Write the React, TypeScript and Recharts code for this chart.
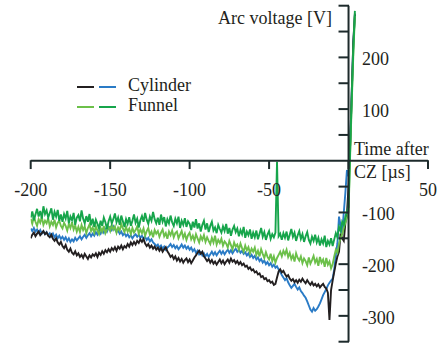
import React from "react";
import {
  LineChart,
  Line,
  XAxis,
  YAxis,
  ReferenceLine,
  ReferenceDot,
} from "recharts";

// time after CZ [µs], 1 µs sampling
const timeUs = [
  -200, -199, -198, -197, -196, -195, -194, -193, -192, -191, -190, -189, -188, -187, -186, -185, -184, -183, -182, -181,
  -180, -179, -178, -177, -176, -175, -174, -173, -172, -171, -170, -169, -168, -167, -166, -165, -164, -163, -162, -161,
  -160, -159, -158, -157, -156, -155, -154, -153, -152, -151, -150, -149, -148, -147, -146, -145, -144, -143, -142, -141,
  -140, -139, -138, -137, -136, -135, -134, -133, -132, -131, -130, -129, -128, -127, -126, -125, -124, -123, -122, -121,
  -120, -119, -118, -117, -116, -115, -114, -113, -112, -111, -110, -109, -108, -107, -106, -105, -104, -103, -102, -101,
  -100, -99, -98, -97, -96, -95, -94, -93, -92, -91, -90, -89, -88, -87, -86, -85, -84, -83, -82, -81,
  -80, -79, -78, -77, -76, -75, -74, -73, -72, -71, -70, -69, -68, -67, -66, -65, -64, -63, -62, -61,
  -60, -59, -58, -57, -56, -55, -54, -53, -52, -51, -50, -49, -48, -47, -46, -45, -44, -43, -42, -41,
  -40, -39, -38, -37, -36, -35, -34, -33, -32, -31, -30, -29, -28, -27, -26, -25, -24, -23, -22, -21,
  -20, -19, -18, -17, -16, -15, -14, -13, -12, -11, -10, -9, -8, -7, -6, -5, -4, -3, -2, -1,
  0, 1, 2, 3, 4,
];

// arc voltage [V], cylinder nozzle, shot 1
const cylinderBlack = [
  -150, -143, -139, -146, -141, -137, -144, -140, -136, -142, -139, -145, -148, -143, -151, -155, -150, -158, -162, -157,
  -165, -169, -163, -172, -176, -170, -178, -181, -175, -183, -179, -186, -182, -188, -180, -185, -190, -183, -187, -181,
  -184, -179, -186, -178, -182, -175, -180, -173, -177, -171, -176, -169, -173, -167, -174, -166, -170, -164, -171, -165,
  -168, -161, -166, -158, -163, -157, -162, -155, -159, -152, -157, -151, -160, -165, -161, -168, -164, -170, -166, -172,
  -168, -174, -169, -176, -171, -167, -175, -180, -186, -183, -190, -185, -193, -188, -195, -190, -197, -192, -189, -196,
  -191, -198, -193, -187, -183, -178, -174, -180, -176, -185, -189, -194, -190, -197, -192, -199, -195, -201, -196, -191,
  -198, -193, -200, -195, -191, -197, -189, -195, -192, -198, -194, -200, -196, -202, -199, -205, -203, -209, -206, -212,
  -210, -216, -214, -220, -218, -225, -223, -229, -227, -233, -231, -236, -234, -240, -238, -226, -214, -210, -216, -213,
  -219, -224, -221, -228, -232, -229, -235, -231, -236, -230, -234, -228, -233, -237, -231, -236, -240, -235, -241, -238,
  -243, -239, -245, -241, -238, -244, -247, -255, -308, -250, -232, -215, -199, -185, -176, -141, -150, -155, -120, -102,
  -50, 30, 130, 230, 285,
];

// cylinder nozzle, shot 2
const cylinderBlue = [
  -131, -136, -130, -137, -133, -139, -134, -141, -137, -142, -138, -144, -140, -146, -141, -148, -143, -150, -145, -151,
  -147, -153, -148, -155, -150, -157, -152, -156, -149, -154, -150, -146, -152, -147, -143, -149, -144, -140, -146, -141,
  -145, -138, -143, -136, -141, -134, -139, -132, -137, -130, -128, -134, -127, -133, -138, -135, -141, -137, -144, -140,
  -146, -142, -148, -144, -150, -145, -142, -147, -143, -149, -145, -151, -147, -153, -149, -156, -152, -158, -161, -165,
  -162, -168, -164, -170, -166, -172, -168, -165, -161, -167, -163, -169, -165, -171, -167, -162, -168, -164, -170, -166,
  -172, -168, -175, -171, -178, -174, -181, -177, -183, -179, -185, -180, -186, -181, -176, -182, -177, -183, -178, -174,
  -180, -175, -181, -176, -172, -178, -173, -179, -174, -170, -176, -172, -178, -174, -180, -177, -183, -179, -186, -182,
  -188, -184, -191, -187, -194, -190, -197, -193, -200, -196, -202, -198, -205, -201, -207, -204, -210, -215, -221, -226,
  -231, -227, -235, -241, -246, -242, -238, -244, -249, -245, -252, -256, -261, -265, -272, -280, -288, -292, -285, -290,
  -287, -282, -276, -268, -260, -254, -248, -241, -236, -232, -228, -210, -182, -160, -108, -125, -140, -100, -62, -18,
  -30, 30, 130, 228, 282,
];

// funnel nozzle, shot 1
const funnelLight = [
  -112, -122, -108, -118, -126, -113, -120, -109, -124, -116, -121, -111, -127, -118, -124, -114, -129, -120, -116, -126,
  -131, -120, -126, -135, -122, -130, -119, -133, -125, -137, -128, -138, -124, -134, -127, -140, -130, -123, -136, -129,
  -139, -127, -135, -142, -130, -137, -126, -140, -133, -128, -136, -124, -133, -127, -139, -129, -135, -122, -131, -138,
  -128, -137, -131, -142, -130, -139, -134, -127, -141, -133, -140, -131, -145, -136, -130, -143, -137, -148, -134, -141,
  -136, -147, -139, -133, -146, -140, -151, -137, -144, -135, -148, -140, -137, -150, -143, -136, -149, -141, -153, -144,
  -139, -152, -145, -155, -142, -150, -158, -146, -153, -144, -157, -148, -155, -161, -149, -158, -145, -162, -153, -159,
  -151, -164, -156, -160, -168, -155, -163, -171, -158, -166, -162, -172, -160, -169, -176, -164, -173, -167, -179, -170,
  -176, -168, -182, -174, -185, -171, -180, -188, -177, -186, -191, -180, -194, -185, -197, -188, -182, -176, -185, -174,
  -181, -172, -186, -178, -190, -183, -195, -179, -188, -193, -185, -198, -189, -194, -202, -187, -199, -192, -184, -197,
  -190, -203, -186, -197, -191, -205, -188, -201, -195, -208, -200, -185, -172, -178, -160, -150, -142, -130, -120, -110,
  -100, 10, 110, 205, 280,
];

// funnel nozzle, shot 2
const funnelDark = [
  -110, -98, -115, -104, -93, -108, -97, -112, -88, -103, -96, -110, -101, -92, -114, -99, -108, -95, -116, -104,
  -118, -103, -112, -97, -121, -108, -115, -101, -124, -110, -105, -117, -96, -112, -121, -107, -118, -103, -125, -112,
  -128, -114, -122, -131, -116, -126, -110, -119, -132, -117, -108, -121, -113, -102, -119, -110, -124, -106, -117, -128,
  -113, -122, -109, -126, -116, -104, -120, -112, -129, -115, -107, -118, -101, -114, -122, -108, -116, -99, -113, -121,
  -110, -124, -104, -118, -109, -127, -113, -121, -106, -119, -126, -112, -121, -108, -130, -116, -124, -111, -128, -117,
  -122, -134, -118, -129, -113, -131, -121, -137, -124, -116, -133, -121, -138, -126, -118, -135, -129, -140, -124, -132,
  -139, -127, -136, -122, -141, -130, -145, -133, -126, -138, -131, -146, -134, -142, -128, -149, -137, -144, -133, -151,
  -139, -148, -135, -152, -141, -130, -147, -138, -153, -143, -136, -151, -142, -148, -139, -2, -146, -141, -153, -140,
  -149, -137, -154, -143, -132, -147, -139, -155, -144, -136, -151, -142, -157, -146, -138, -153, -160, -147, -155, -143,
  -158, -149, -164, -152, -160, -145, -167, -155, -162, -150, -165, -152, -140, -148, -128, -136, -118, -124, -108, -98,
  -90, 20, 120, 215, 290,
];

const xTicks = [-200, -150, -100, -50, 0, 50];
const xTickLabels = ["-200", "-150", "-100", "-50", "", "50"];
const yTicks = [300, 250, 200, 150, 100, 50, -50, -100, -150, -200, -250, -300, -350];
const yLabelTicks = [200, 100, -100, -200, -300];

const rows = timeUs.map((t, i) => ({
  t,
  black: cylinderBlack[i],
  blue: cylinderBlue[i],
  light: funnelLight[i],
  dark: funnelDark[i],
}));

const AXIS = "#1d2a2b";
const INK = "#231f20";
const FONT = '"Liberation Serif", "Times New Roman", serif';

const COLORS = {
  black: "#231f20",
  blue: "#2a7bc6",
  light: "#6cc04a",
  dark: "#16a54b",
};

const textStyle: React.CSSProperties = {
  position: "absolute",
  fontFamily: FONT,
  fontSize: 18,
  color: INK,
  lineHeight: "20px",
  whiteSpace: "nowrap",
};

function LegendRow({ top, colors, label }: { top: number; colors: string[]; label: string }) {
  return (
    <>
      <div style={{ position: "absolute", left: 77, top, width: 17, height: 2, background: colors[0] }} />
      <div style={{ position: "absolute", left: 99, top, width: 17, height: 2, background: colors[1] }} />
      <div style={{ ...textStyle, left: 128, top: top - 11 }}>{label}</div>
    </>
  );
}

export default function App() {
  return (
    <div style={{ position: "fixed", left: 0, top: 0, width: 439, height: 347, background: "#fff" }}>
      <LineChart
        width={439}
        height={347}
        data={rows}
        margin={{ top: 5.7, right: 11, bottom: 5.3, left: 30.7 }}
      >
        <XAxis dataKey="t" type="number" domain={[-200, 50]} hide allowDataOverflow />
        <YAxis type="number" domain={[-350, 300]} hide allowDataOverflow />

        <Line dataKey="blue" stroke={COLORS.blue} strokeWidth={1.9} dot={false} isAnimationActive={false} />
        <Line dataKey="black" stroke={COLORS.black} strokeWidth={1.9} dot={false} isAnimationActive={false} />
        <Line dataKey="light" stroke={COLORS.light} strokeWidth={1.9} dot={false} isAnimationActive={false} />
        <Line dataKey="dark" stroke={COLORS.dark} strokeWidth={1.9} dot={false} isAnimationActive={false} />

        <ReferenceLine y={0} stroke={AXIS} strokeWidth={2} />
        <ReferenceLine x={0} stroke={AXIS} strokeWidth={2} />

        {xTicks.map((t) => (
          <ReferenceLine
            key={`xt${t}`}
            segment={[{ x: t, y: 1 }, { x: t, y: -16 }]}
            stroke={AXIS}
            strokeWidth={2}
          />
        ))}
        {yTicks.map((v) => (
          <ReferenceLine
            key={`yt${v}`}
            segment={[{ x: -6.3, y: v }, { x: 0.3, y: v }]}
            stroke={AXIS}
            strokeWidth={2}
          />
        ))}

        {xTicks.map((t, i) =>
          xTickLabels[i] ? (
            <ReferenceDot
              key={`xl${t}`}
              x={t}
              y={-55}
              r={0}
              fill="none"
              stroke="none"
              label={{ value: xTickLabels[i], position: "center", fill: INK, fontSize: 18, fontFamily: FONT }}
            />
          ) : null
        )}
        {yLabelTicks.map((v) => (
          <ReferenceDot
            key={`yl${v}`}
            x={8.4}
            y={v - 3}
            r={0}
            fill="none"
            stroke="none"
            label={{ value: String(v), position: "right", offset: 0, fill: INK, fontSize: 18, fontFamily: FONT }}
          />
        ))}
      </LineChart>

      <div style={{ ...textStyle, right: 439 - 332, top: 8 }}>Arc voltage [V]</div>
      <div style={{ ...textStyle, left: 354, top: 139 }}>Time after</div>
      <div style={{ ...textStyle, left: 354, top: 162 }}>CZ [µs]</div>

      <LegendRow top={86} colors={[COLORS.black, COLORS.blue]} label="Cylinder" />
      <LegendRow top={106} colors={[COLORS.light, COLORS.dark]} label="Funnel" />
    </div>
  );
}
